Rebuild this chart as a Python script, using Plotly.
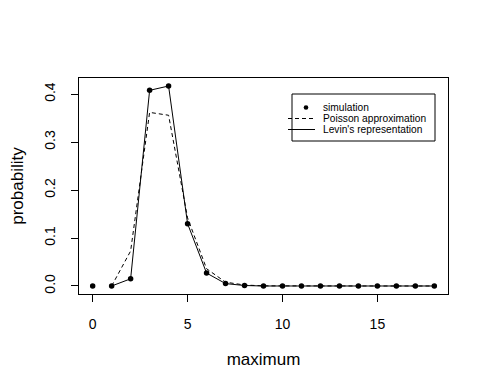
import plotly.graph_objects as go

maximum = list(range(0, 19))
simulation = [0.0, 0.0, 0.015, 0.408, 0.417, 0.130, 0.027, 0.005, 0.001,
              0, 0, 0, 0, 0, 0, 0, 0, 0, 0]
poisson_x = list(range(1, 19))
poisson = [0.0, 0.073, 0.362, 0.356, 0.142, 0.036, 0.008, 0.002, 0.0003,
           0, 0, 0, 0, 0, 0, 0, 0, 0]
levin_x = list(range(1, 19))
levin = [0.0, 0.015, 0.408, 0.417, 0.130, 0.027, 0.005, 0.001,
         0, 0, 0, 0, 0, 0, 0, 0, 0, 0]

x_ticks = [0, 5, 10, 15]
y_ticks = [0.0, 0.1, 0.2, 0.3, 0.4]
y_tick_labels = ["0.0", "0.1", "0.2", "0.3", "0.4"]
legend_labels = ["simulation", "Poisson approximation", "Levin's representation"]

FONT = "Liberation Sans, Arial, sans-serif"
OFF = 8  # browser body margin
L, R, T, B, W, H = 79 - OFF, 41, 78 - OFF, 97, 489 - OFF, 391 - OFF
PW, PH = W - L - R, H - T - B


def px(x):
    return (x - OFF - L) / PW


def py(y):
    return (H - B - (y - OFF)) / PH


fig = go.Figure()
fig.add_trace(go.Scatter(x=maximum, y=simulation, mode="markers",
                         marker=dict(color="black", size=5.5),
                         name=legend_labels[0], showlegend=False))
fig.add_trace(go.Scatter(x=poisson_x, y=poisson, mode="lines",
                         line=dict(color="black", width=1, dash="4px,3px"),
                         name=legend_labels[1], showlegend=False))
fig.add_trace(go.Scatter(x=levin_x, y=levin, mode="lines",
                         line=dict(color="black", width=1),
                         name=legend_labels[2], showlegend=False))

# manual compact legend (R style)
shapes = [dict(type="rect", xref="paper", yref="paper",
               x0=px(292), x1=px(435), y0=py(141), y1=py(94),
               line=dict(color="black", width=1), fillcolor="white", layer="above")]
rows = [107.5, 118.5, 129.5]
shapes.append(dict(type="circle", xref="paper", yref="paper",
                   x0=px(306 - 2.3), x1=px(306 + 2.3),
                   y0=py(rows[0] + 2.3), y1=py(rows[0] - 2.3),
                   fillcolor="black", line=dict(color="black", width=0), layer="above"))
shapes.append(dict(type="line", xref="paper", yref="paper",
                   x0=px(288), x1=px(315), y0=py(rows[1]), y1=py(rows[1]),
                   line=dict(color="black", width=1, dash="4px,3px"), layer="above"))
shapes.append(dict(type="line", xref="paper", yref="paper",
                   x0=px(288), x1=px(315), y0=py(rows[2]), y1=py(rows[2]),
                   line=dict(color="black", width=1), layer="above"))
annotations = [dict(text=t, xref="paper", yref="paper", x=px(321), y=py(r),
                    xanchor="left", yanchor="middle", showarrow=False,
                    font=dict(size=10.2, family=FONT, color="black"))
               for t, r in zip(legend_labels, rows)]

fig.update_layout(
    width=W, height=H,
    margin=dict(l=L, r=R, t=T, b=B),
    paper_bgcolor="white", plot_bgcolor="white",
    font=dict(family=FONT, size=14, color="black"),
    showlegend=False,
    shapes=shapes, annotations=annotations,
)
fig.update_xaxes(range=[-0.72, 18.72], tickmode="array", tickvals=x_ticks,
                 ticks="outside", ticklen=7, tickwidth=1, tickcolor="black",
                 showline=True, linecolor="black", linewidth=1, mirror=True,
                 showgrid=False, zeroline=False, automargin=False,
                 ticklabelstandoff=10,
                 title=dict(text="maximum", standoff=22))
fig.update_yaxes(range=[-0.0167, 0.4337], tickmode="array", tickvals=y_ticks,
                 ticktext=y_tick_labels, tickangle=-90,
                 ticks="outside", ticklen=7, tickwidth=1, tickcolor="black",
                 showline=True, linecolor="black", linewidth=1, mirror=True,
                 showgrid=False, zeroline=False, automargin=False,
                 ticklabelstandoff=10,
                 title=dict(text="probability", standoff=18))

fig.write_html("out.html")
